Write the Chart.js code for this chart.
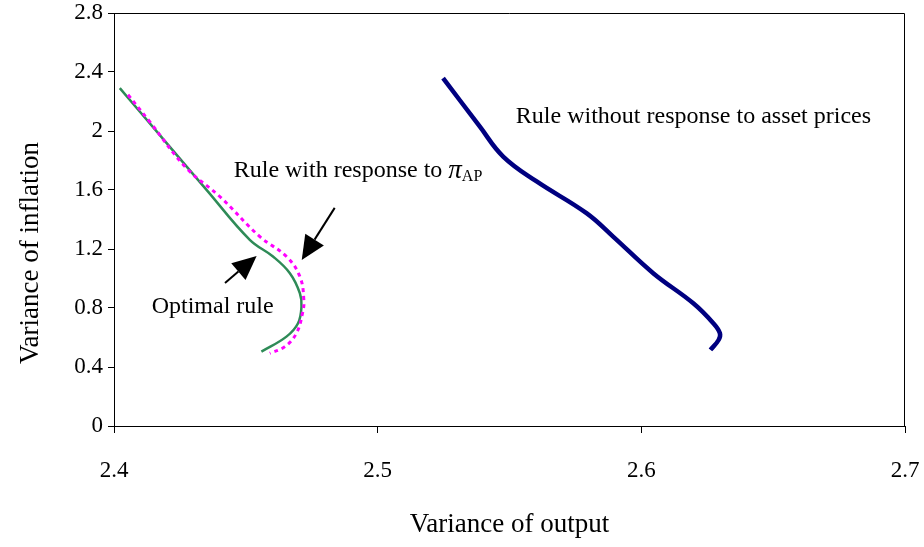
<!DOCTYPE html>
<html>
<head>
<meta charset="utf-8">
<script src="https://cdn.jsdelivr.net/npm/chart.js@4/dist/chart.umd.min.js"></script>
<style>
  html, body { margin: 0; padding: 0; background: #fff; }
  #wrap { width: 924px; height: 547px; }
</style>
</head>
<body>
<div id="wrap"><canvas id="frontierChart"></canvas></div>
<script>
// Variance of output (x) / variance of inflation (y)
const optimalX = [2.4022, 2.4173, 2.4351, 2.4515, 2.4603, 2.4667, 2.4705, 2.4711, 2.4698, 2.4654, 2.4559];
const optimalY = [2.291, 1.974, 1.601, 1.262, 1.149, 1.036, 0.900, 0.809, 0.697, 0.606, 0.504];

const withApX = [2.4053, 2.4135, 2.4275, 2.4401, 2.4553, 2.4654, 2.4705, 2.4720, 2.4715, 2.4692, 2.4648, 2.4591];
const withApY = [2.246, 2.064, 1.748, 1.556, 1.284, 1.149, 1.013, 0.855, 0.765, 0.629, 0.538, 0.493];

const withoutApX = [2.5248, 2.5387, 2.5476, 2.5603, 2.5792, 2.5893, 2.6045, 2.6197, 2.6273, 2.6298, 2.6293, 2.6262];
const withoutApY = [2.359, 2.031, 1.827, 1.658, 1.443, 1.284, 1.036, 0.832, 0.697, 0.629, 0.583, 0.516];

const xTicks = [2.4, 2.5, 2.6, 2.7];
const yTicks = [0, 0.4, 0.8, 1.2, 1.6, 2, 2.4, 2.8];

function toPoints(xs, ys) {
    return xs.map(function(x, i) { return { x: x, y: ys[i] }; });
}

const SERIF = '"Liberation Serif", "Times New Roman", serif';

// labels, arrows, frame and y title
const annotations = {
    id: 'annotations',
    afterDraw(chart) {
        const ctx = chart.ctx;
        const xs = chart.scales.x, ys = chart.scales.y;
        const a = chart.chartArea;
        ctx.save();

        // frame on top and right
        ctx.strokeStyle = '#000';
        ctx.lineWidth = 1;
        ctx.beginPath();
        ctx.moveTo(a.left, a.top + 0.5);
        ctx.lineTo(a.right - 0.5, a.top + 0.5);
        ctx.lineTo(a.right - 0.5, a.bottom);
        ctx.stroke();

        ctx.fillStyle = '#000';
        ctx.textBaseline = 'middle';
        ctx.textAlign = 'left';
        ctx.font = '24px ' + SERIF;
        ctx.fillText('Rule without response to asset prices', xs.getPixelForValue(2.5524), ys.getPixelForValue(2.096));
        ctx.fillText('Optimal rule', xs.getPixelForValue(2.4143), ys.getPixelForValue(0.807));

        const lx = xs.getPixelForValue(2.4454), ly = ys.getPixelForValue(1.730);
        const t = 'Rule with response to ';
        ctx.fillText(t, lx, ly);
        let px = lx + ctx.measureText(t).width;
        ctx.font = 'italic 27px ' + SERIF;
        ctx.fillText('\u03C0', px, ly);
        px += ctx.measureText('\u03C0').width;
        ctx.font = '16px ' + SERIF;
        ctx.fillText('AP', px, ly + 6);

        function arrow(x1, y1, x2, y2) {
            const p1x = xs.getPixelForValue(x1), p1y = ys.getPixelForValue(y1);
            const p2x = xs.getPixelForValue(x2), p2y = ys.getPixelForValue(y2);
            const ang = Math.atan2(p2y - p1y, p2x - p1x);
            const len = 24, half = 11;
            const bx = p2x - len * Math.cos(ang), by = p2y - len * Math.sin(ang);
            ctx.lineWidth = 2;
            ctx.beginPath();
            ctx.moveTo(p1x, p1y);
            ctx.lineTo(bx, by);
            ctx.stroke();
            ctx.beginPath();
            ctx.moveTo(p2x, p2y);
            ctx.lineTo(bx + half * Math.sin(ang), by - half * Math.cos(ang));
            ctx.lineTo(bx - half * Math.sin(ang), by + half * Math.cos(ang));
            ctx.closePath();
            ctx.fill();
        }
        arrow(2.4837, 1.479, 2.4712, 1.126);
        arrow(2.4421, 0.970, 2.4541, 1.153);

        // y axis title
        ctx.translate(31, 253);
        ctx.rotate(-Math.PI / 2);
        ctx.textAlign = 'center';
        ctx.font = '27px ' + SERIF;
        ctx.fillText('Variance of inflation', 0, 0);
        ctx.restore();
    }
};

document.addEventListener('DOMContentLoaded', function() {
    const el = document.getElementById('frontierChart');
    new Chart(el.getContext('2d'), {
        type: 'scatter',
        data: {
            datasets: [{
                label: 'Rule with response to asset prices',
                data: toPoints(withApX, withApY),
                borderColor: '#ff00ff',
                borderWidth: 3,
                borderDash: [4, 4],
                showLine: true,
                tension: 0.4,
                pointRadius: 0
            }, {
                label: 'Optimal rule',
                data: toPoints(optimalX, optimalY),
                borderColor: '#2e8b57',
                borderWidth: 2.5,
                showLine: true,
                tension: 0.4,
                pointRadius: 0
            }, {
                label: 'Rule without response to asset prices',
                data: toPoints(withoutApX, withoutApY),
                borderColor: '#000080',
                borderWidth: 4.5,
                showLine: true,
                tension: 0.4,
                pointRadius: 0
            }]
        },
        options: {
            responsive: true,
            maintainAspectRatio: false,
            animation: false,
            layout: { padding: { top: 13, right: 19, left: 0, bottom: 0 } },
            plugins: {
                legend: { display: false },
                tooltip: { enabled: false }
            },
            scales: {
                x: {
                    type: 'linear',
                    min: 2.4,
                    max: 2.7,
                    afterBuildTicks: function(s) { s.ticks = xTicks.map(function(v) { return { value: v }; }); },
                    afterFit: function(s) { s.height = 121; s.paddingLeft = 0; s.paddingRight = 0; },
                    border: { color: '#000', width: 1 },
                    grid: { drawOnChartArea: false, color: '#000', tickLength: 7 },
                    ticks: {
                        color: '#000',
                        padding: 24,
                        maxRotation: 0,
                        font: { family: SERIF, size: 23 },
                        callback: function(v) { return String(v); }
                    },
                    title: {
                        display: true,
                        text: 'Variance of output',
                        color: '#000',
                        font: { family: SERIF, size: 27 },
                        padding: { top: 20, bottom: 6 }
                    }
                },
                y: {
                    type: 'linear',
                    min: 0,
                    max: 2.8,
                    afterBuildTicks: function(s) { s.ticks = yTicks.map(function(v) { return { value: v }; }); },
                    afterFit: function(s) { s.width = 114; s.paddingTop = 0; s.paddingBottom = 0; },
                    border: { color: '#000', width: 1 },
                    grid: { drawOnChartArea: false, color: '#000', tickLength: 6 },
                    ticks: {
                        color: '#000',
                        padding: 5,
                        font: { family: SERIF, size: 23 },
                        callback: function(v) { return String(v); }
                    }
                }
            }
        },
        plugins: [annotations]
    });
});
</script>
</body>
</html>
